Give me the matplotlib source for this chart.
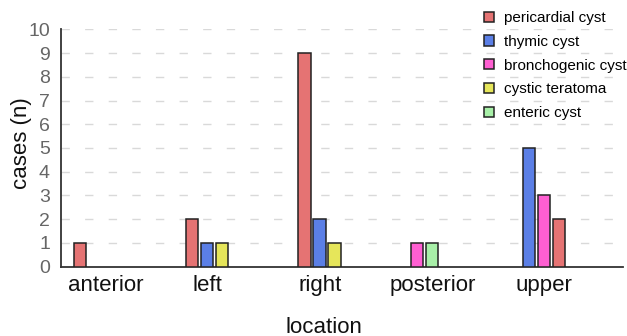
import numpy as np
import matplotlib
matplotlib.use("Agg")
import matplotlib.pyplot as plt
from matplotlib.patches import Patch

plt.rcParams['font.family'] = ['Liberation Sans', 'DejaVu Sans']

# data
locations = ["anterior", "left", "right", "posterior", "upper"]
series = ["pericardial cyst", "thymic cyst", "bronchogenic cyst",
          "cystic teratoma", "enteric cyst"]
pericardial = [1, 2, 9, 0, 2]
thymic = [0, 1, 2, 0, 5]
bronchogenic = [0, 0, 0, 1, 3]
teratoma = [0, 1, 1, 0, 0]
enteric = [0, 0, 0, 1, 0]
# order of bars inside each location group (zero bars are skipped)
group_order = {"upper": ["thymic cyst", "bronchogenic cyst", "pericardial cyst"]}

values = dict(zip(series, [pericardial, thymic, bronchogenic, teratoma, enteric]))
colors = {
    "pericardial cyst": "#e57373",
    "thymic cyst": "#5b7fe6",
    "bronchogenic cyst": "#ff5fd2",
    "cystic teratoma": "#e6e65a",
    "enteric cyst": "#a8f0a8",
}

fig = plt.figure(figsize=(6.27, 3.36), dpi=100)
ax = fig.add_axes([0.0973, 0.2063, 0.8958, 0.7065])

bar_w = 0.111
step = 0.1335
start = 0.112
for i, loc in enumerate(locations):
    order = group_order.get(loc, series)
    k = 0
    for s in order:
        v = values[s][i]
        if v == 0:
            continue
        ax.bar(i + start + k * step, v, width=bar_w, align='edge',
               color=colors[s], edgecolor='#222222', linewidth=1.1, zorder=3)
        k += 1

ax.set_xlim(0, 5)
ax.set_ylim(0, 10)
ax.set_yticks(range(0, 11))
label_pos = np.arange(len(locations)) + np.array([0.394, 0.306, 0.307, 0.312, 0.30])
ax.set_xticks(label_pos)
ax.set_xticklabels(locations, fontsize=16, color='#111111')
ax.tick_params(axis='x', length=0, pad=6)
ax.tick_params(axis='y', length=0, pad=8, labelsize=14, labelcolor='#666666')

ax.yaxis.grid(True, color='#d9d9d9', linewidth=1, linestyle=(0, (6, 11)), zorder=0)
ax.set_axisbelow(True)
for sp in ['top', 'right']:
    ax.spines[sp].set_visible(False)
for sp in ['left', 'bottom']:
    ax.spines[sp].set_color('#333333')
    ax.spines[sp].set_linewidth(1.3)

ax.set_ylabel("cases (n)", fontsize=16, color='#111111')
ax.yaxis.set_label_coords(-0.052, 0.52)
ax.set_xlabel("location", fontsize=16, color='#111111')
ax.xaxis.set_label_coords(0.4685, -0.21)

handles = [Patch(facecolor=colors[s], edgecolor='#222222', linewidth=1.1) for s in series]
fig.legend(handles, series, loc='upper left',
           bbox_to_anchor=(484 / 627, 1 - 11 / 336), frameon=False,
           fontsize=11, handlelength=0.65, handleheight=0.65,
           handletextpad=0.65, labelspacing=0.64, borderpad=0, borderaxespad=0)

fig.savefig("out.png", dpi=100)
